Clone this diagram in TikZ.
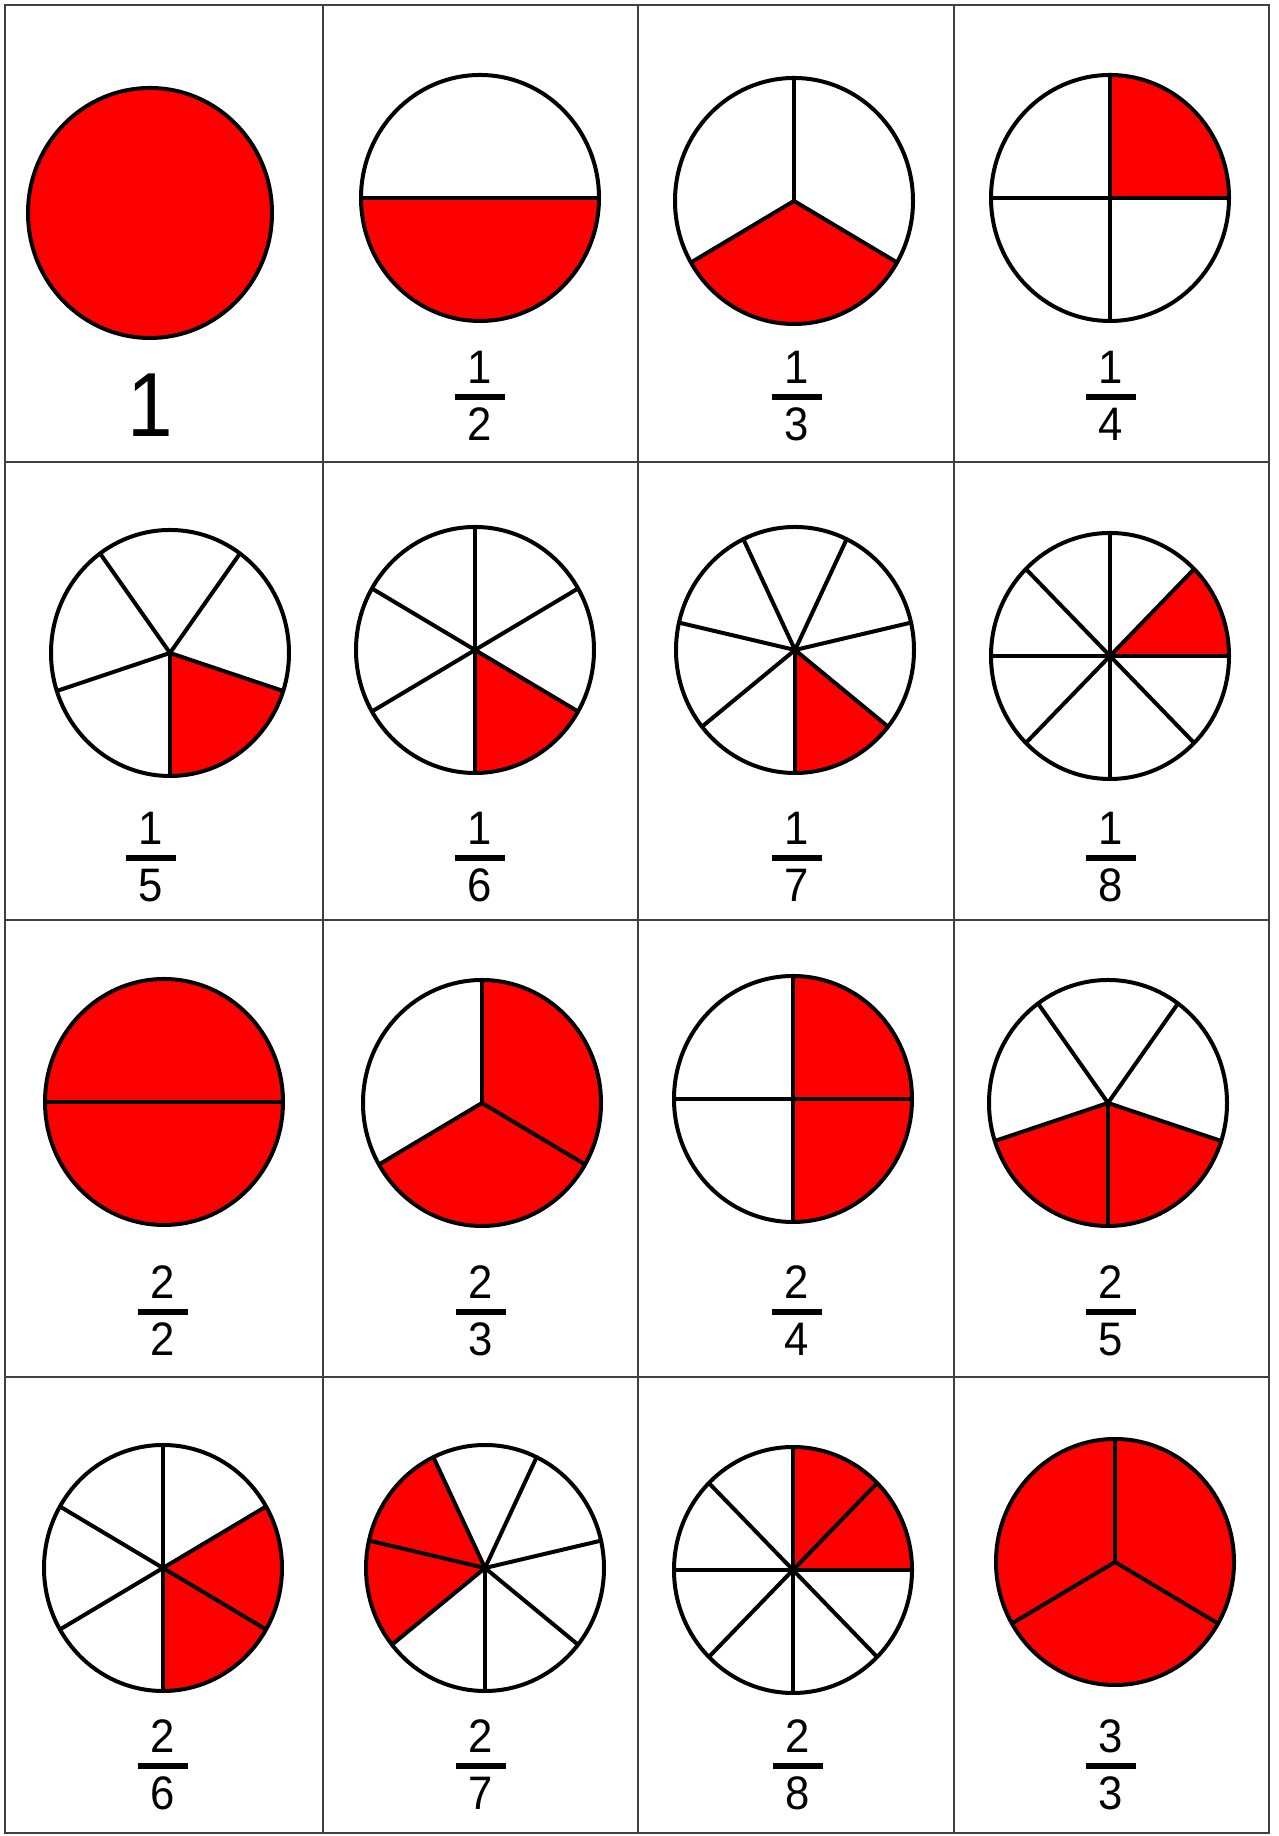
\documentclass[tikz,border=0pt]{standalone}
\usepackage{fontspec}
\setmainfont{Liberation Sans}
\usepackage{tikz}
\usetikzlibrary{calc}

\begin{document}
\begin{tikzpicture}[x=1pt, y=1pt,
  pie/.style={line width=4pt, line join=round},
  gridline/.style={line width=2pt, black!75},
  digit/.style={font=\fontsize{47}{50}\selectfont, inner sep=0pt, anchor=base, xscale=0.93},
  fracbar/.style={line width=6pt}]
\useasboundingbox (0,0) rectangle (1279,1836);
% table lines
\draw[gridline] (5,3) rectangle (1269,1831);
\foreach \x in {323,638,954} \draw[gridline] (\x,3) -- (\x,1831);
\foreach \y in {459,916,1374} \draw[gridline] (5,\y) -- (1269,\y);
% the whole one
\coordinate (c1) at (150,1623);
\fill[red] (c1) ellipse [x radius=122, y radius=125];
\draw[pie] (c1) ellipse [x radius=122, y radius=125];
\node[font=\fontsize{91}{95}\selectfont, inner sep=0pt, anchor=base, xscale=0.9] (one) at (150,1399) {1};
% fraction pies: id/centre/parts/first spoke/red from/red to/numerator/denominator/label x/bar y
\foreach \i/\cx/\cy/\n/\s/\ra/\rb/\num/\den/\lx/\by in {
  2/480/1638/2/0/180/360/1/2/480/1439, 3/794/1635/3/90/210/330/1/3/797/1439,
  4/1110/1638/4/0/0/90/1/4/1111/1439, 5/170/1183/5/270/270/342/1/5/151/978,
  6/475/1186/6/270/270/330/1/6/480/978, 7/795/1186/7/270/270/321.43/1/7/797/978,
  8/1110/1180/8/0/0/45/1/8/1111/978, 9/164/734/2/0/0/360/2/2/163/524,
  10/482/733/3/90/210/450/2/3/481/524, 11/793/737/4/0/-90/90/2/4/797/524,
  12/1108/733/5/270/198/342/2/5/1111/524, 13/163/268/6/270/270/390/2/6/163/70,
  14/485/268/7/270/115.71/218.57/2/7/481/70, 15/793/266/8/0/0/90/2/8/798/70,
  16/1115/274/3/90/0/360/3/3/1111/70} {
  \coordinate (c\i) at (\cx,\cy);
  \fill[red] (c\i) -- ++(\ra:119 and 123) arc[start angle=\ra, end angle=\rb, x radius=119, y radius=123] -- cycle;
  \foreach \k in {1,...,\n} \draw[pie] (c\i) -- ++(\s+\k*360/\n:119 and 123);
  \draw[pie] (c\i) ellipse [x radius=119, y radius=123];
  \node[digit] (num\i) at (\lx,\by+13) {\num};
  \node[digit] (den\i) at (\lx,\by-44) {\den};
  \draw[fracbar] (\lx-25,\by) -- (\lx+25,\by);
}
\end{tikzpicture}
\end{document}
